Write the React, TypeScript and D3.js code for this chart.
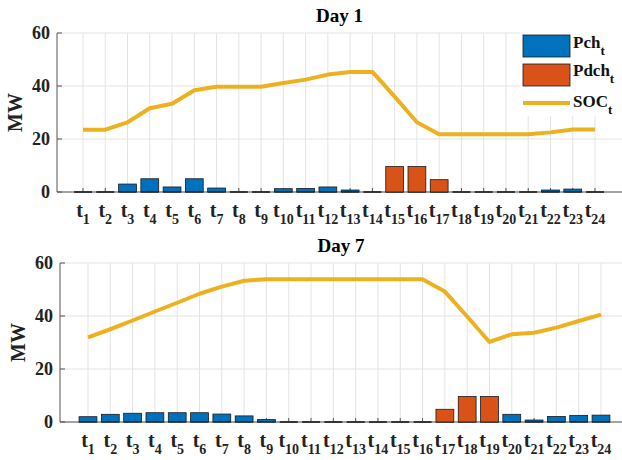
import React from "react";
import * as d3 from "d3";

const hours = d3.range(1, 25);
const yTicks = [0, 20, 40, 60];

const day1Pch = [0, 0, 3.0, 5.0, 1.9, 5.0, 1.5, 0, 0, 1.25, 1.35, 1.9, 0.75, 0, 0, 0, 0, 0, 0, 0, 0, 0.75, 1.1, 0];
const day1Pdch = [0, 0, 0, 0, 0, 0, 0, 0, 0, 0, 0, 0, 0, 0, 9.6, 9.6, 4.65, 0, 0, 0, 0, 0, 0, 0];
const day1Soc = [23.5, 23.5, 26.3, 31.6, 33.3, 38.4, 39.7, 39.7, 39.7, 41.1, 42.4, 44.3, 45.3, 45.3, 36.0, 26.3, 21.8, 21.8, 21.8, 21.8, 21.8, 22.5, 23.6, 23.6];

const day7Pch = [2.0, 2.9, 3.3, 3.5, 3.5, 3.5, 3.0, 2.3, 0.9, 0, 0, 0, 0, 0, 0, 0, 0, 0, 0, 2.9, 0.75, 2.1, 2.5, 2.6];
const day7Pdch = [0, 0, 0, 0, 0, 0, 0, 0, 0, 0, 0, 0, 0, 0, 0, 0, 4.8, 9.6, 9.6, 0, 0, 0, 0, 0];
const day7Soc = [31.9, 35.0, 38.3, 41.7, 45.0, 48.4, 51.1, 53.3, 53.9, 53.9, 53.9, 53.9, 53.9, 53.9, 53.9, 53.9, 49.2, 39.8, 30.2, 33.1, 33.7, 35.6, 38.1, 40.5];

const legendLabels = ["Pch", "Pdch", "SOC"];

const BLUE = "#0072BD";
const ORANGE = "#D95319";
const YELLOW = "#EDB120";
const FONT = "'Liberation Serif', 'Times New Roman', serif";

type PanelProps = {
  title: string;
  pch: number[];
  pdch: number[];
  soc: number[];
  left: number;
  right: number;
  x1: number;
  x24: number;
  yTop: number;
  yBottom: number;
  legend?: boolean;
};

function Panel({ title, pch, pdch, soc, left, right, x1, x24, yTop, yBottom, legend }: PanelProps) {
  const x = d3.scaleLinear().domain([1, 24]).range([x1, x24]);
  const y = d3.scaleLinear().domain([0, 60]).range([yBottom, yTop]);
  const step = x(2) - x(1);
  const bw = step * 0.8;
  const line = d3
    .line<number>()
    .x((_, i) => x(hours[i]))
    .y((d) => y(d));

  const bars = (vals: number[], color: string, key: string) =>
    vals.map((v, i) => {
      const cx = x(hours[i]);
      if (v <= 0) {
        return (
          <line key={key + i} x1={cx - bw / 2} x2={cx + bw / 2} y1={y(0)} y2={y(0)} stroke="#222" strokeWidth={1.2} />
        );
      }
      return (
        <rect
          key={key + i}
          x={cx - bw / 2}
          y={y(v)}
          width={bw}
          height={y(0) - y(v)}
          fill={color}
          stroke="#1a1a1a"
          strokeWidth={0.8}
        />
      );
    });

  const cx = (left + right) / 2;
  return (
    <g style={{ fontFamily: FONT }}>
      {yTicks.map((t) => (
        <line key={"gy" + t} x1={left} x2={right} y1={y(t)} y2={y(t)} stroke="#e3e3e3" strokeWidth={1} />
      ))}
      {hours.map((h) => (
        <line key={"gx" + h} x1={x(h)} x2={x(h)} y1={yTop} y2={yBottom} stroke="#e3e3e3" strokeWidth={1} />
      ))}
      <line x1={left} x2={right} y1={yBottom} y2={yBottom} stroke="#555" strokeWidth={1} />
      <line x1={left} x2={left} y1={yTop} y2={yBottom} stroke="#555" strokeWidth={1} />
      {yTicks.map((t) => (
        <line key={"ty" + t} x1={left} x2={left + 5} y1={y(t)} y2={y(t)} stroke="#555" strokeWidth={1} />
      ))}
      {hours.map((h) => (
        <line key={"tx" + h} x1={x(h)} x2={x(h)} y1={yBottom} y2={yBottom - 4} stroke="#555" strokeWidth={1} />
      ))}
      {bars(pch, BLUE, "pch")}
      {bars(pdch, ORANGE, "pdch")}
      <path d={line(soc) || ""} fill="none" stroke={YELLOW} strokeWidth={4} strokeLinejoin="round" />
      {yTicks.map((t) => (
        <text
          key={"yl" + t}
          x={left - 7}
          y={y(t)}
          dy="0.35em"
          textAnchor="end"
          fontWeight="bold"
          fontSize={18}
          fill="#222"
        >
          {t}
        </text>
      ))}
      {hours.map((h) => (
        <text
          key={"xl" + h}
          x={x(h)}
          y={yBottom + 25}
          textAnchor="middle"
          fontWeight="bold"
          fill="#222"
        >
          <tspan fontSize={20}>t</tspan>
          <tspan fontSize={14} dy={7}>
            {h}
          </tspan>
        </text>
      ))}
      <text
        transform={`translate(${left - 35},${(yTop + yBottom) / 2}) rotate(-90)`}
        textAnchor="middle"
        fontWeight="bold"
        fontSize={20}
        fill="#222"
      >
        MW
      </text>
      <text x={cx} y={yTop - 11} textAnchor="middle" fontWeight="bold" fontSize={19} fill="#000">
        {title}
      </text>
      {legend && (
        <g>
          <rect x={520} y={30} width={110} height={86} fill="#fff" />
          <rect x={523} y={35} width={47} height={22} fill={BLUE} stroke="#1a1a1a" strokeWidth={0.8} />
          <rect x={523} y={64} width={47} height={22} fill={ORANGE} stroke="#1a1a1a" strokeWidth={0.8} />
          <line x1={523} x2={570} y1={103} y2={103} stroke={YELLOW} strokeWidth={4} />
          {legendLabels.map((lab, i) => (
            <text key={lab} x={573} y={[48, 76, 107][i]} fontWeight="bold" fontSize={17} fill="#111">
              {lab}
              <tspan fontSize={13} dy={7}>
                t
              </tspan>
            </text>
          ))}
        </g>
      )}
    </g>
  );
}

export default function App() {
  return (
    <svg width={622} height={460} style={{ position: "absolute", left: 0, top: 0, background: "#fff" }}>
      <rect width={622} height={460} fill="#fff" />
      <Panel
        title="Day 1"
        pch={day1Pch}
        pdch={day1Pdch}
        soc={day1Soc}
        left={57}
        right={622}
        x1={83}
        x24={595}
        yTop={33}
        yBottom={192}
        legend
      />
      <Panel
        title="Day 7"
        pch={day7Pch}
        pdch={day7Pdch}
        soc={day7Soc}
        left={60}
        right={622}
        x1={88}
        x24={601}
        yTop={263}
        yBottom={422}
      />
    </svg>
  );
}
